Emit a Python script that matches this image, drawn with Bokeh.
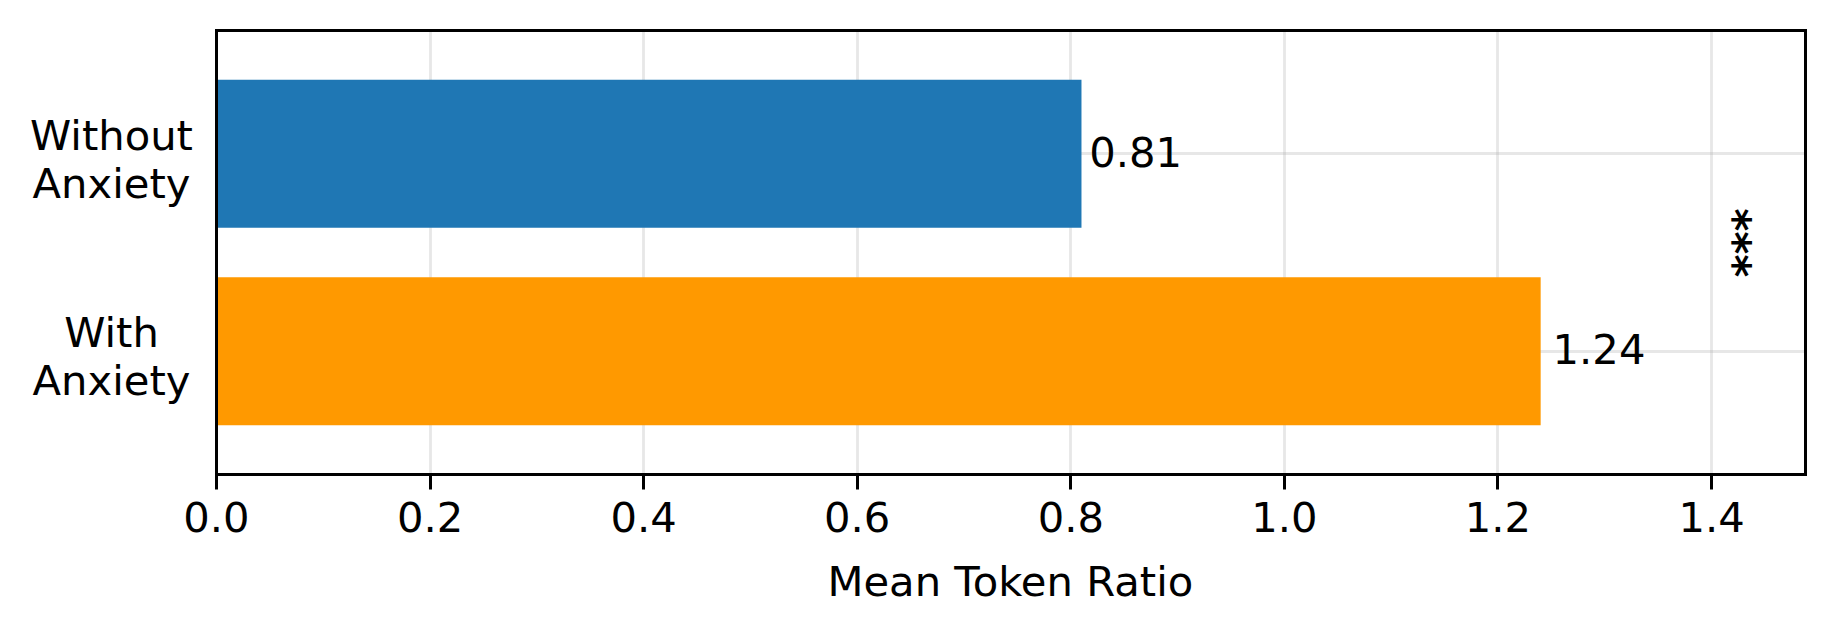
import math
from bokeh.plotting import figure
from bokeh.models import Range1d, FixedTicker, ColumnDataSource, Label, Title
from bokeh.embed import file_html
from bokeh.resources import INLINE

# ---- data ----
categories = ["Without\nAnxiety", "With\nAnxiety"]
values = [0.81, 1.24]
bar_colors = ["#1f77b4", "#ff9900"]
value_labels = ["0.81", "1.24"]
x_ticks = [0.0, 0.2, 0.4, 0.6, 0.8, 1.0, 1.2, 1.4]
x_tick_labels = ["0.0", "0.2", "0.4", "0.6", "0.8", "1.0", "1.2", "1.4"]
x_label = "Mean Token Ratio"
significance = "***"

FONT = "DejaVu Sans"
FS = "41.7px"

n = len(categories)
ypos = [n - 1 - i for i in range(n)]  # first category on top
xmax = max(values) * 1.2
y_lo, y_hi = -0.625, n - 1 + 0.625

# ---- layout (pixels) ----
AX_W, AX_H = 1589, 444          # axes box
LEFT_PAD, RIGHT_PAD, VPAD = 216, 3, 2
kx = AX_W / xmax
ky = AX_H / (y_hi - y_lo)

p = figure(frame_width=LEFT_PAD + AX_W + RIGHT_PAD, frame_height=AX_H + 2 * VPAD,
           min_border_left=0, min_border_top=30 - VPAD, min_border_right=10,
           min_border_bottom=142,
           x_range=Range1d(-LEFT_PAD / kx, xmax + RIGHT_PAD / kx),
           y_range=Range1d(y_lo - VPAD / ky, y_hi + VPAD / ky),
           output_backend="svg", toolbar_location=None,
           background_fill_color="white", border_fill_color="white")
p.outline_line_color = None

src = ColumnDataSource(dict(y=ypos, right=values, color=bar_colors,
                            lx=[v * 1.009 for v in values],
                            ly=[y + 0.01 for y in ypos], lab=value_labels))
p.hbar(y="y", right="right", left=0, height=0.75, color="color", source=src, line_width=0)
p.text(x="lx", y="ly", text="lab", source=src, text_font_size=FS,
       text_baseline="middle", text_align="left", text_color="black",
       text_font={"value": FONT})

# axes box
p.quad(left=[0], right=[xmax], bottom=[y_lo], top=[y_hi], fill_color=None,
       line_color="black", line_width=3, line_join="miter")

# category labels: two centred lines each, left of the axes box
line_offsets = [0.095, -0.149]
lab_x, lab_y, lab_t = [], [], []
for y, cat in zip(ypos, categories):
    for k, line in enumerate(cat.split("\n")):
        lab_x.append(-105 / kx)
        lab_y.append(y + line_offsets[k])
        lab_t.append(line)
p.text(x=lab_x, y=lab_y, text=lab_t, text_font_size=FS, text_align="center",
       text_baseline="middle", text_color="black", text_font={"value": FONT})

# significance marker
p.add_layout(Label(x=1.4342, y=0.5 * (ypos[0] + ypos[1]) + 0.049,
                   text=significance, angle=math.pi / 2,
                   text_align="center", text_baseline="middle",
                   text_font=FONT, text_font_size="44px", text_font_style="bold",
                   text_color="black"))

# grids (limited to the axes box)
p.xgrid.ticker = FixedTicker(ticks=x_ticks)
p.ygrid.ticker = FixedTicker(ticks=ypos)
p.xgrid.cross_bounds = (y_lo, y_hi)
p.ygrid.cross_bounds = (0, xmax)
for g in (p.xgrid, p.ygrid):
    g.grid_line_color = "#b0b0b0"
    g.grid_line_alpha = 0.3
    g.grid_line_width = 2.8

# x axis
xa = p.xaxis[0]
xa.ticker = FixedTicker(ticks=x_ticks)
xa.bounds = (0, xmax)
xa.major_label_overrides = {t: l for t, l in zip(x_ticks, x_tick_labels)}
xa.major_label_text_font = FONT
xa.major_label_text_font_size = FS
xa.major_label_text_color = "black"
xa.major_label_standoff = 12
xa.major_tick_out = 13
xa.major_tick_in = 2
xa.minor_tick_out = 0
xa.minor_tick_in = 0
xa.major_tick_line_width = 3
xa.axis_line_color = None

p.yaxis.visible = False

# x axis title, centred under the axes box
title_w = 367
p.add_layout(Title(text=x_label, align="left",
                   offset=LEFT_PAD + AX_W / 2 - title_w / 2,
                   standoff=40, text_font=FONT, text_font_size=FS,
                   text_font_style="normal", text_color="black"), "below")

open("out.html", "w").write(file_html(p, INLINE))
